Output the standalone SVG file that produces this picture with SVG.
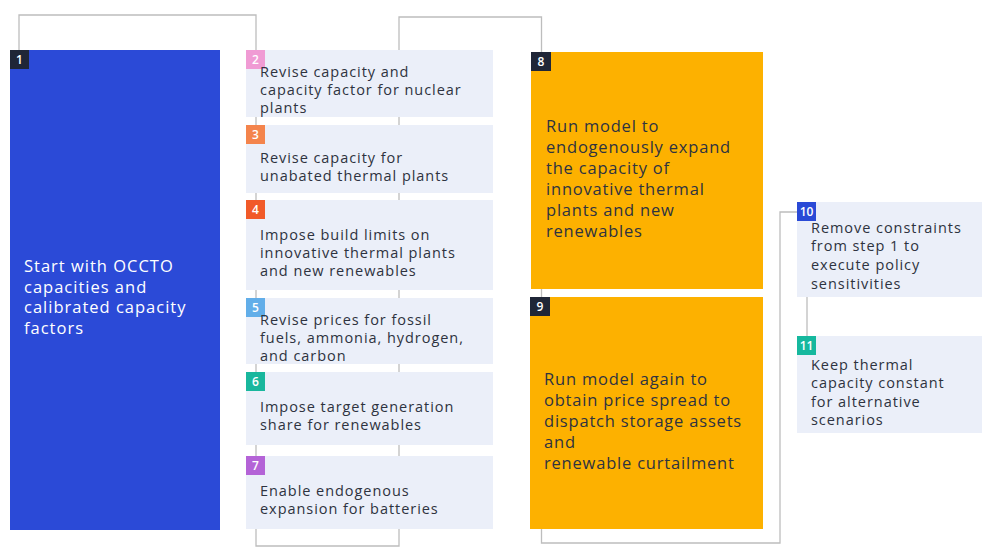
<svg xmlns="http://www.w3.org/2000/svg" width="995" height="552" viewBox="0 0 995 552">
<style>
.lt{fill:#ebeff9}
.or{fill:#fdb100}
.bd{fill:#1f2637}
.ln{fill:none;stroke:#bdbdbd;stroke-width:1.3}
.t{font-family:"Open Sans","Liberation Sans",sans-serif;font-size:14.5px;letter-spacing:0.95px;fill:#2e3340}
.tb{font-family:"Open Sans","Liberation Sans",sans-serif;font-size:16.5px;letter-spacing:0.8px;fill:#2e3340}
.tw{font-family:"Open Sans","Liberation Sans",sans-serif;font-size:16.5px;letter-spacing:1px;fill:#ffffff}
.n{font-family:"Open Sans","Liberation Sans",sans-serif;font-size:12px;fill:#ffffff;font-weight:600;text-anchor:middle}
</style>
<rect width="995" height="552" fill="#ffffff"/>
<g id="connectors">
<path class="ln" d="M19,50 V15 H256 V546 H399 V17 H541.5 V543 H780 V212 H797"/>
<path class="ln" d="M807,297 V336"/>
</g>
<g id="node1">
<rect x="10" y="50" width="210" height="480" fill="#2b4ad7"/>
<rect class="bd" x="10" y="50" width="19" height="19"/>
<text class="n" x="19.5" y="64">1</text>
<text class="tw" x="24" y="272">Start with OCCTO</text>
<text class="tw" x="24" y="293">capacities and</text>
<text class="tw" x="24" y="313">calibrated capacity</text>
<text class="tw" x="24" y="334">factors</text>
</g>
<g id="node2">
<rect class="lt" x="246" y="50" width="247" height="67"/>
<rect x="246" y="50" width="19" height="19" fill="#f09bd4"/>
<text class="n" x="255.5" y="64">2</text>
<text class="t" x="260" y="77">Revise capacity and</text>
<text class="t" x="260" y="95">capacity factor for nuclear</text>
<text class="t" x="260" y="113">plants</text>
</g>
<g id="node3">
<rect class="lt" x="246" y="125" width="247" height="68"/>
<rect x="246" y="125" width="19" height="19" fill="#f4844c"/>
<text class="n" x="255.5" y="139">3</text>
<text class="t" x="260" y="163">Revise capacity for</text>
<text class="t" x="260" y="181">unabated thermal plants</text>
</g>
<g id="node4">
<rect class="lt" x="246" y="200" width="247" height="90"/>
<rect x="246" y="200" width="19" height="19" fill="#f15a29"/>
<text class="n" x="255.5" y="214">4</text>
<text class="t" x="260" y="240">Impose build limits on</text>
<text class="t" x="260" y="258">innovative thermal plants</text>
<text class="t" x="260" y="276">and new renewables</text>
</g>
<g id="node5">
<rect class="lt" x="246" y="298" width="247" height="66"/>
<rect x="246" y="298" width="19" height="19" fill="#62aee9"/>
<text class="n" x="255.5" y="312">5</text>
<text class="t" x="260" y="325">Revise prices for fossil</text>
<text class="t" x="260" y="343">fuels, ammonia, hydrogen,</text>
<text class="t" x="260" y="361">and carbon</text>
</g>
<g id="node6">
<rect class="lt" x="246" y="372" width="247" height="73"/>
<rect x="246" y="372" width="19" height="19" fill="#19b79d"/>
<text class="n" x="255.5" y="386">6</text>
<text class="t" x="260" y="412">Impose target generation</text>
<text class="t" x="260" y="430">share for renewables</text>
</g>
<g id="node7">
<rect class="lt" x="246" y="456" width="247" height="73"/>
<rect x="246" y="456" width="19" height="19" fill="#b463d7"/>
<text class="n" x="255.5" y="470">7</text>
<text class="t" x="260" y="496">Enable endogenous</text>
<text class="t" x="260" y="514">expansion for batteries</text>
</g>
<g id="node8">
<rect class="or" x="531" y="52" width="232" height="237"/>
<rect class="bd" x="531" y="52" width="20" height="19"/>
<text class="n" x="541" y="66">8</text>
<text class="tb" x="546" y="132">Run model to</text>
<text class="tb" x="546" y="153">endogenously expand</text>
<text class="tb" x="546" y="174">the capacity of</text>
<text class="tb" x="546" y="195">innovative thermal</text>
<text class="tb" x="546" y="216">plants and new</text>
<text class="tb" x="546" y="237">renewables</text>
</g>
<g id="node9">
<rect class="or" x="530" y="297" width="233" height="232"/>
<rect class="bd" x="530" y="297" width="20" height="19"/>
<text class="n" x="540" y="311">9</text>
<text class="tb" x="544" y="385">Run model again to</text>
<text class="tb" x="544" y="406">obtain price spread to</text>
<text class="tb" x="544" y="427">dispatch storage assets</text>
<text class="tb" x="544" y="448">and</text>
<text class="tb" x="544" y="469">renewable curtailment</text>
</g>
<g id="node10">
<rect class="lt" x="797" y="202" width="185" height="95"/>
<rect x="797" y="202" width="19" height="19" fill="#2a4ad6"/>
<text class="n" x="806.5" y="216">10</text>
<text class="t" x="811" y="233">Remove constraints</text>
<text class="t" x="811" y="251">from step 1 to</text>
<text class="t" x="811" y="270">execute policy</text>
<text class="t" x="811" y="289">sensitivities</text>
</g>
<g id="node11">
<rect class="lt" x="797" y="336" width="185" height="97"/>
<rect x="797" y="336" width="19" height="19" fill="#16b89e"/>
<text class="n" x="806.5" y="350">11</text>
<text class="t" x="811" y="370">Keep thermal</text>
<text class="t" x="811" y="388">capacity constant</text>
<text class="t" x="811" y="407">for alternative</text>
<text class="t" x="811" y="425">scenarios</text>
</g>
</svg>
